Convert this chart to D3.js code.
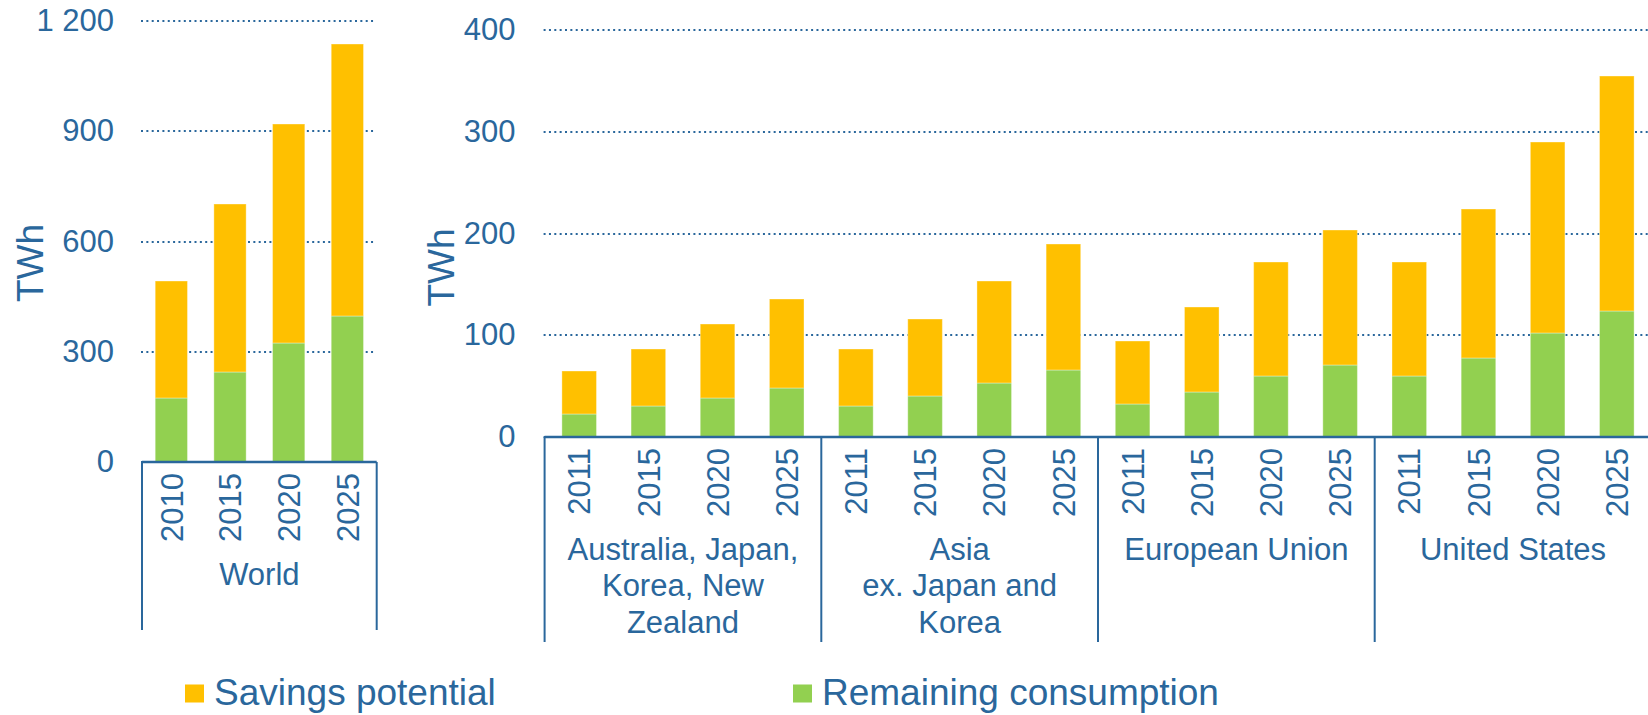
<!DOCTYPE html>
<html>
<head>
<meta charset="utf-8">
<script src="https://cdn.jsdelivr.net/npm/d3@7"></script>
<style>
    body { margin: 0; background: #ffffff; }
    svg { display: block; font-family: "Liberation Sans", Arial, sans-serif; }
    .grid line { stroke: #2a679c; stroke-width: 2; stroke-dasharray: 2 3.35; }
</style>
</head>
<body>
<div id="chart"></div>
<script>
// ---- data (TWh) ----
const worldYears = ["2010", "2015", "2020", "2025"];
const worldRemaining = [173, 246, 323, 398];
const worldSavings = [320, 456, 597, 740];
const worldTicks = [0, 300, 600, 900, 1200];

const regionLabels = [
    ["Australia, Japan,", "Korea, New", "Zealand"],
    ["Asia", "ex. Japan and", "Korea"],
    ["European Union"],
    ["United States"]
];
const regionYears = ["2011", "2015", "2020", "2025"];
const regionRemaining = [[23, 30, 38, 48], [30, 40, 53, 66], [32, 44, 60, 71], [60, 78, 102, 124]];
const regionSavings = [[42, 56, 73, 88], [56, 76, 100, 124], [62, 84, 112, 132], [112, 146, 188, 231]];
const regionTicks = [0, 100, 200, 300, 400];

const seriesKeys = ["remaining", "savings"];
const seriesNames = {savings: "Savings potential", remaining: "Remaining consumption"};
const seriesColors = {savings: "#ffc000", remaining: "#92d050"};

const blue = "#2a679c";
const fmt = d3.formatLocale({decimal: ".", thousands: " ", grouping: [3], currency: ["", ""]}).format(",");

const svg = d3.select("#chart").append("svg")
    .attr("width", 1648)
    .attr("height", 715);

class StackedPanel {

    constructor(parent, rows, groups, opts) {
        this.parent = parent;
        this.rows = rows;
        this.groups = groups;
        this.opts = opts;
        this.initVis();
    }

    initVis() {
        let vis = this, o = vis.opts;

        vis.g = vis.parent.append("g");

        vis.x = d3.scaleBand()
            .domain(vis.rows.map(d => d.key))
            .range([o.left, o.right])
            .paddingInner(o.pad)
            .paddingOuter(o.pad / 2);
        vis.y = d3.scaleLinear()
            .domain([0, o.max])
            .rangeRound([o.bottom, o.top]);

        // dotted gridlines + tick labels
        vis.yAxis = d3.axisLeft(vis.y)
            .tickValues(o.ticks)
            .tickFormat(fmt)
            .tickSize(-(o.gridRight - o.left))
            .tickPadding(o.tickPad)
            .offset(0);

        vis.g.append("g")
            .attr("class", "grid")
            .attr("transform", "translate(" + (o.left - 1) + ",0)")
            .call(vis.yAxis)
            .attr("font-family", null)
            .attr("font-size", 31)
            .call(g => g.select(".domain").remove())
            .call(g => g.selectAll("text").attr("fill", blue));

        vis.g.append("text")
            .attr("transform", "translate(" + o.titleX + "," + o.titleY + ") rotate(-90)")
            .attr("text-anchor", "middle")
            .attr("font-size", 37)
            .attr("fill", blue)
            .text("TWh");

        vis.wrangleData();
    }

    wrangleData() {
        let vis = this;
        vis.stacked = d3.stack().keys(seriesKeys)(vis.rows);
        vis.updateVis();
    }

    updateVis() {
        let vis = this, o = vis.opts;

        vis.g.selectAll(".layer")
            .data(vis.stacked)
            .join("g")
            .attr("class", "layer")
            .attr("fill", d => seriesColors[d.key])
            .selectAll("rect")
            .data(d => d)
            .join("rect")
            .attr("x", d => vis.x(d.data.key))
            .attr("width", vis.x.bandwidth())
            .attr("y", d => vis.y(d[1]))
            .attr("height", d => vis.y(d[0]) - vis.y(d[1]))
            .attr("stroke", "rgba(255,255,255,0.35)")
            .attr("stroke-width", 1);

        let y0 = vis.y(0);
        let half = (vis.x.step() - vis.x.bandwidth()) / 2;

        // category axis with group boxes
        vis.g.append("line")
            .attr("x1", o.left).attr("x2", o.right)
            .attr("y1", y0).attr("y2", y0)
            .attr("stroke", blue).attr("stroke-width", 2.5);

        let bounds = vis.groups.map(gr => vis.x(vis.rows.find(r => r.group === gr.id).key) - half);
        bounds.push(o.right);

        vis.g.selectAll(".sep")
            .data(bounds)
            .join("line")
            .attr("class", "sep")
            .attr("x1", d => d).attr("x2", d => d)
            .attr("y1", y0).attr("y2", o.sepBottom)
            .attr("stroke", blue).attr("stroke-width", 2);

        vis.g.selectAll(".year")
            .data(vis.rows)
            .join("text")
            .attr("class", "year")
            .attr("transform", d => "translate(" + (vis.x(d.key) + vis.x.bandwidth() / 2) + "," + (y0 + 11) + ") rotate(-90)")
            .attr("text-anchor", "end")
            .attr("dy", "0.36em")
            .attr("font-size", 31)
            .attr("fill", blue)
            .text(d => d.year);

        vis.g.selectAll(".group")
            .data(vis.groups)
            .join("text")
            .attr("class", "group")
            .attr("text-anchor", "middle")
            .attr("font-size", 31)
            .attr("fill", blue)
            .each(function(gr, i) {
                let cx = (bounds[i] + bounds[i + 1]) / 2;
                d3.select(this).selectAll("tspan")
                    .data(gr.lines)
                    .join("tspan")
                    .attr("x", cx)
                    .attr("y", (d, j) => o.labelY + j * 36.8)
                    .text(d => d);
            });
    }
}

// build rows for each panel
let worldRows = worldYears.map((yr, i) => ({
    key: "World|" + yr, group: "World", year: yr,
    remaining: worldRemaining[i], savings: worldSavings[i]
}));

let regionRows = [];
regionLabels.forEach(function(lines, r) {
    regionYears.forEach(function(yr, i) {
        regionRows.push({
            key: r + "|" + yr, group: r, year: yr,
            remaining: regionRemaining[r][i], savings: regionSavings[r][i]
        });
    });
});

new StackedPanel(svg, worldRows, [{id: "World", lines: ["World"]}], {
    left: 142, right: 376.7, pad: 0.45, max: 1200, bottom: 462, top: 21,
    ticks: worldTicks, tickPad: 27, gridRight: 376.7,
    titleX: 42.7, titleY: 263, sepBottom: 630, labelY: 585
});

new StackedPanel(svg, regionRows, regionLabels.map((l, i) => ({id: i, lines: l})), {
    left: 544.6, right: 1651.4, pad: 0.5, max: 400, bottom: 437, top: 30,
    ticks: regionTicks, tickPad: 28, gridRight: 1660,
    titleX: 453.6, titleY: 267.5, sepBottom: 642, labelY: 559.5
});

// legend
let legend = svg.append("g").attr("font-size", 37).attr("fill", blue);
let legendItems = [{key: "savings", x: 185}, {key: "remaining", x: 793}];

legend.selectAll("rect")
    .data(legendItems)
    .join("rect")
    .attr("x", d => d.x).attr("y", 684.5)
    .attr("width", 19).attr("height", 18)
    .attr("fill", d => seriesColors[d.key]);

legend.selectAll("text")
    .data(legendItems)
    .join("text")
    .attr("x", d => d.x + 29).attr("y", 705)
    .text(d => seriesNames[d.key]);
</script>
</body>
</html>
